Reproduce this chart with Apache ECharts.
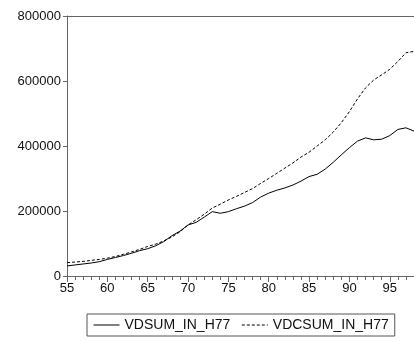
<!DOCTYPE html>
<html><head><meta charset="utf-8">
<script src="https://cdn.jsdelivr.net/npm/echarts@6/dist/echarts.min.js"></script>
<style>html,body{margin:0;padding:0;background:#fff}#c{width:414px;height:341px}</style>
</head><body><div id="c"></div>
<script>
const years = ['55','56','57','58','59','60','61','62','63','64','65','66','67','68','69','70','71','72','73','74','75','76','77','78','79','80','81','82','83','84','85','86','87','88','89','90','91','92','93','94','95','96','97','98'];
const vdsum = [31000,34000,37000,40000,44000,51000,57000,63000,70000,78000,84000,93000,106000,124000,138000,157000,165000,181000,198000,193000,198000,207000,215000,226000,243000,255000,264000,271000,280000,292000,306000,313000,329000,350000,373000,395000,415000,425000,419000,421000,432000,451000,456000,446000];
const vdcsum = [41000,43000,45000,48000,51000,55000,60000,67000,74000,82000,91000,98000,108000,120000,136000,157000,173000,190000,209000,221000,234000,245000,257000,269000,285000,300000,316000,332000,348000,366000,381000,400000,419000,443000,472000,506000,545000,579000,603000,619000,636000,660000,687000,691000];
const seriesNames = ['VDSUM_IN_H77','VDCSUM_IN_H77'];
const yTicks = [0,200000,400000,600000,800000];

const chart = echarts.init(document.getElementById('c'), null, {renderer:'canvas'});
const font = 'Liberation Sans, Arial, sans-serif';
chart.setOption({
  animation:false,
  backgroundColor:'#fff',
  grid:{left:67,top:16,right:0,bottom:65,show:false},
  legend:{
    data:seriesNames, top:314, left:87,
    itemWidth:26, itemHeight:10, itemGap:11,
    borderColor:'#555', borderWidth:1, padding:[4,6,4,6],
    itemStyle:{color:'transparent',borderWidth:0,opacity:0},
    lineStyle:{width:1},
    textStyle:{fontFamily:font,fontSize:14,color:'#111',padding:[0,0,0,0]}
  },
  xAxis:[{
    type:'category', data:years, boundaryGap:false,
    axisLine:{lineStyle:{color:'#666',width:1}},
    axisTick:{interval:0,length:4,lineStyle:{color:'#666'}},
    axisLabel:{interval:4,fontFamily:font,fontSize:13,color:'#111',margin:6},
    splitLine:{show:false}
  },{
    type:'category', data:years, boundaryGap:false, position:'bottom',
    axisLine:{show:false},
    axisTick:{interval:4,length:6,lineStyle:{color:'#666'}},
    axisLabel:{show:false}, splitLine:{show:false}
  },{
    type:'category', data:years, boundaryGap:false, position:'top',
    axisLine:{show:true,lineStyle:{color:'#666',width:1}},
    axisTick:{show:false}, axisLabel:{show:false}, splitLine:{show:false}
  }],
  yAxis:{
    type:'value', min:yTicks[0], max:yTicks[yTicks.length-1], interval:200000,
    axisLine:{show:true,lineStyle:{color:'#666',width:1}},
    axisTick:{show:true,length:4,lineStyle:{color:'#666'}},
    axisLabel:{fontFamily:font,fontSize:13,color:'#111',margin:6,formatter:v=>String(v)},
    splitLine:{show:false}
  },
  series:[
    {name:seriesNames[0],type:'line',data:vdsum,symbol:'none',lineStyle:{color:'#000',width:1},itemStyle:{color:'#000'}},
    {name:seriesNames[1],type:'line',data:vdcsum,symbol:'none',lineStyle:{color:'#000',width:1,type:[3,2]},itemStyle:{color:'#000'}}
  ]
});
</script></body></html>
